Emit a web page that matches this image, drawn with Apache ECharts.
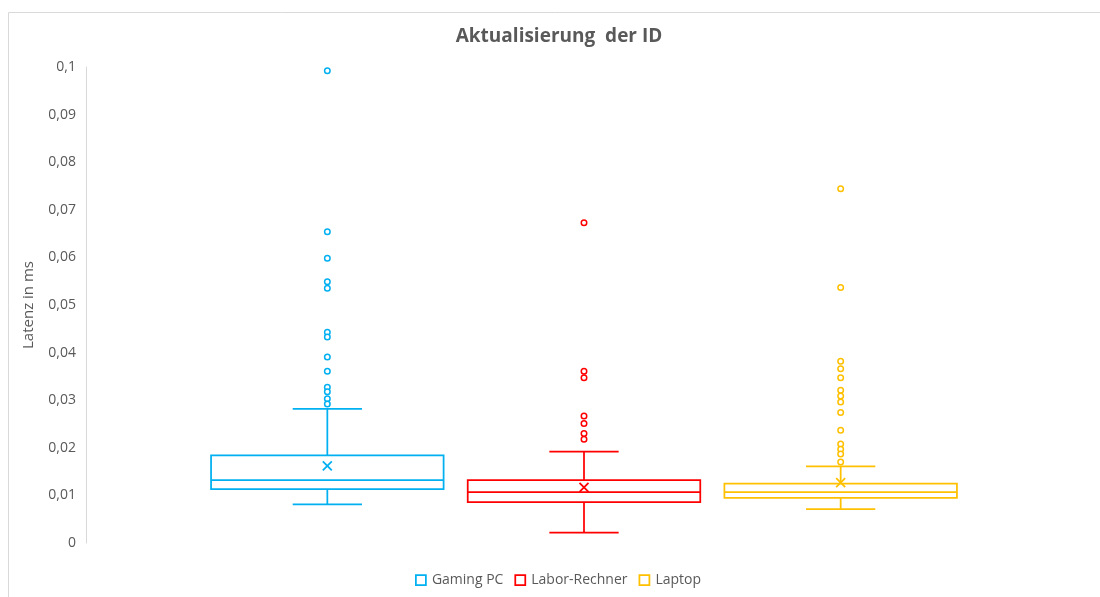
<!DOCTYPE html>
<html>
<head>
<meta charset="utf-8">
<script src="https://cdn.jsdelivr.net/npm/echarts@6/dist/echarts.min.js"></script>
<style>
html,body{margin:0;padding:0;background:#fff;}
#chart{width:1100px;height:597px;}
</style>
</head>
<body>
<div id="chart"></div>
<script>
// ---- data ----
const categories = ['Gaming PC', 'Labor-Rechner', 'Laptop'];
// [min, Q1, median, Q3, max, mean]
const gamingStats = [0.0081, 0.0113, 0.0132, 0.0184, 0.0282, 0.0162];
const laborStats  = [0.0022, 0.0086, 0.0107, 0.0132, 0.0192, 0.0117];
const laptopStats = [0.0071, 0.0095, 0.0107, 0.0125, 0.0161, 0.0127];
const gamingOutliers = [0.0992, 0.0654, 0.0598, 0.0549, 0.0535, 0.0443, 0.0433, 0.0391, 0.0361, 0.0327, 0.0318, 0.0303, 0.0292];
const laborOutliers  = [0.0673, 0.0361, 0.0347, 0.0267, 0.0251, 0.0230, 0.0218];
const laptopOutliers = [0.0744, 0.0537, 0.0382, 0.0366, 0.0347, 0.0321, 0.0309, 0.0296, 0.0274, 0.0237, 0.0208, 0.0197, 0.0187, 0.0170];
const yMin = 0, yMax = 0.1, yStep = 0.01;

const colors = ['#00B0F0', '#FF0000', '#FFC000'];
const allStats = [gamingStats, laborStats, laptopStats];
const allOutliers = [gamingOutliers, laborOutliers, laptopOutliers];

function makeRender(color) {
  return function (params, api) {
    const x = api.value(0);
    const pMin = api.coord([x, api.value(1)]);
    const pQ1 = api.coord([x, api.value(2)]);
    const pMed = api.coord([x, api.value(3)]);
    const pQ3 = api.coord([x, api.value(4)]);
    const pMax = api.coord([x, api.value(5)]);
    const pMean = api.coord([x, api.value(6)]);
    const band = api.size([1, 0])[0];
    const bw = band * 0.906, cw = band * 0.27, m = 4.5;
    const cx = pMed[0];
    const st = { stroke: color, fill: null, lineWidth: 1.75 };
    const line = (x1, y1, x2, y2) => ({ type: 'line', shape: { x1, y1, x2, y2 }, style: st });
    return {
      type: 'group',
      children: [
        line(cx, pQ3[1], cx, pMax[1]),
        line(cx, pQ1[1], cx, pMin[1]),
        line(cx - cw / 2, pMax[1], cx + cw / 2, pMax[1]),
        line(cx - cw / 2, pMin[1], cx + cw / 2, pMin[1]),
        { type: 'rect', shape: { x: cx - bw / 2, y: pQ3[1], width: bw, height: pQ1[1] - pQ3[1] }, style: { stroke: color, fill: 'rgba(255,255,255,0)', lineWidth: 1.75 } },
        line(cx - bw / 2, pMed[1], cx + bw / 2, pMed[1]),
        line(pMean[0] - m, pMean[1] - m, pMean[0] + m, pMean[1] + m),
        line(pMean[0] - m, pMean[1] + m, pMean[0] + m, pMean[1] - m)
      ]
    };
  };
}

const series = [];
categories.forEach((name, i) => {
  const s = allStats[i];
  series.push({
    name, type: 'custom',
    renderItem: makeRender(colors[i]),
    encode: { x: 0, y: [1, 2, 3, 4, 5, 6] },
    data: [[i, s[0], s[1], s[2], s[3], s[4], s[5]]],
    itemStyle: { color: colors[i] },
    z: 2
  });
  series.push({
    name, type: 'scatter',
    symbol: 'circle', symbolSize: 5.5,
    itemStyle: { color: '#fff', borderColor: colors[i], borderWidth: 1.5, opacity: 1 },
    data: allOutliers[i].map(v => [i, v]),
    z: 3
  });
});

const chart = echarts.init(document.getElementById('chart'), null, { renderer: 'canvas' });
chart.setOption({
  animation: false,
  backgroundColor: '#fff',
  textStyle: { fontFamily: 'Open Sans' },
  graphic: [{
    type: 'rect', silent: true,
    shape: { x: 8.5, y: 12.5, width: 1100, height: 600 },
    style: { fill: null, stroke: '#d9d9d9', lineWidth: 1 }
  }],
  title: {
    text: 'Aktualisierung  der ID',
    left: 554, top: 22, textAlign: 'center',
    textStyle: { fontFamily: 'Open Sans', fontSize: 19, fontWeight: 'bold', color: '#595959' }
  },
  legend: {
    left: 410, top: 568,
    itemWidth: 10, itemHeight: 10, itemGap: 11,
    textStyle: { fontFamily: 'Open Sans', fontSize: 14, color: '#595959', padding: [0, 0, 0, 1] },
    data: categories.map((n, i) => ({
      name: n, icon: 'rect',
      itemStyle: { color: '#fff', borderColor: colors[i], borderWidth: 1.75 }
    }))
  },
  grid: { left: 199, right: 131, top: 67, bottom: 54 },
  xAxis: {
    type: 'category', data: categories, show: false
  },
  yAxis: {
    type: 'value', min: yMin, max: yMax, interval: yStep,
    offset: 113,
    name: 'Latenz in ms', nameLocation: 'middle', nameGap: 50,
    nameTextStyle: { fontFamily: 'Open Sans', fontSize: 15, color: '#595959' },
    axisLine: { show: true, lineStyle: { color: '#d9d9d9', width: 1 } },
    axisTick: { show: false },
    splitLine: { show: false },
    axisLabel: {
      margin: 10, fontFamily: 'Open Sans', fontSize: 14, color: '#595959',
      formatter: v => String(v).replace('.', ',')
    }
  },
  series
});
</script>
</body>
</html>
